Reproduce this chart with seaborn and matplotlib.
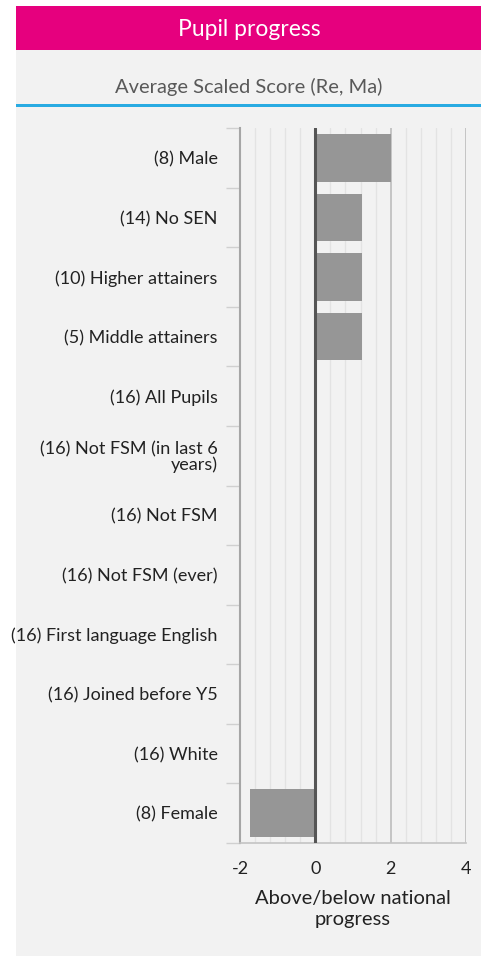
import matplotlib
matplotlib.use('Agg')
import matplotlib.pyplot as plt
import seaborn as sns
import pandas as pd
from matplotlib.patches import Rectangle
from matplotlib.ticker import MultipleLocator

# Chart data
groups = ['(8) Male', '(14) No SEN', '(10) Higher attainers', '(5) Middle attainers',
          '(16) All Pupils', '(16) Not FSM (in last 6\nyears)', '(16) Not FSM',
          '(16) Not FSM (ever)', '(16) First language English', '(16) Joined before Y5',
          '(16) White', '(8) Female']
progress = [2.0, 1.23, 1.23, 1.23, 0, 0, 0, 0, 0, 0, 0, -1.73]
x_ticks = [-2, 0, 2, 4]

df = pd.DataFrame({'group': groups, 'progress': progress})

sns.set_theme(style='white')
plt.rcParams['font.family'] = ['Lato', 'DejaVu Sans']

W, H = 487, 956
fig = plt.figure(figsize=(W / 100, H / 100), dpi=100)
fig.patch.set_facecolor('white')

# card background, header and divider
fig.patches.append(Rectangle((16 / W, 0), 465 / W, (H - 50) / H, transform=fig.transFigure,
                             facecolor='#f2f2f2', edgecolor='none', zorder=-2))
fig.patches.append(Rectangle((16 / W, (H - 50) / H), 465 / W, 44 / H, transform=fig.transFigure,
                             facecolor='#e6007e', edgecolor='none', zorder=-1))
fig.patches.append(Rectangle((16 / W, (H - 107) / H), 465 / W, 3 / H, transform=fig.transFigure,
                             facecolor='#29abe2', edgecolor='none', zorder=-1))
fig.text(249 / W, (H - 29) / H, 'Pupil progress', color='white', fontsize=16.5,
         ha='center', va='center')
fig.text(249 / W, (H - 87) / H, 'Average Scaled Score (Re, Ma)', color='#595959', fontsize=14.5,
         ha='center', va='center')

ax = fig.add_axes([240 / W, (H - 843) / H, 226 / W, 715 / H])
ax.set_facecolor('#f2f2f2')

sns.barplot(data=df, x='progress', y='group', orient='h', color='#969696',
            saturation=1, width=0.8, linewidth=0, ax=ax, zorder=3)

ax.set_xlim(-2, 4)
ax.set_ylim(len(groups) - 0.5, -0.5)
ax.set_xticks(x_ticks)
ax.set_xticklabels([str(t) for t in x_ticks], fontsize=13, color='#222222')
ax.xaxis.set_minor_locator(MultipleLocator(0.4))
ax.grid(which='minor', axis='x', color='#e3e3e3', linewidth=1, zorder=0)
ax.grid(which='major', axis='x', color='#c4c4c4', linewidth=1.4, zorder=0)
ax.axvline(0, color='#555555', linewidth=2.2, zorder=4)

# tick marks between category bands
ax.set_yticks(range(len(groups)))
ax.set_yticklabels(groups, fontsize=13, color='#222222', ha='right', linespacing=0.95)
ax.set_yticks([i - 0.5 for i in range(len(groups) + 1)], minor=True)
ax.tick_params(axis='y', which='major', left=False, length=0, pad=16)
ax.tick_params(axis='y', which='minor', left=True, length=10, width=1, color='#d0d0d0')
ax.tick_params(axis='x', which='both', bottom=False, length=0, pad=13)
for lbl in ax.get_yticklabels():
    lbl.set_verticalalignment('center_baseline')

for s in ['top', 'right']:
    ax.spines[s].set_visible(False)
ax.spines['left'].set_color('#a6a6a6')
ax.spines['left'].set_linewidth(1.5)
ax.spines['bottom'].set_color('#c4c4c4')
ax.spines['bottom'].set_linewidth(1.2)

ax.set_ylabel('')
ax.set_xlabel('Above/below national\nprogress', fontsize=14.5, color='#222222', labelpad=9,
              linespacing=1.3)

fig.savefig('out.png', dpi=100, facecolor=fig.get_facecolor())
